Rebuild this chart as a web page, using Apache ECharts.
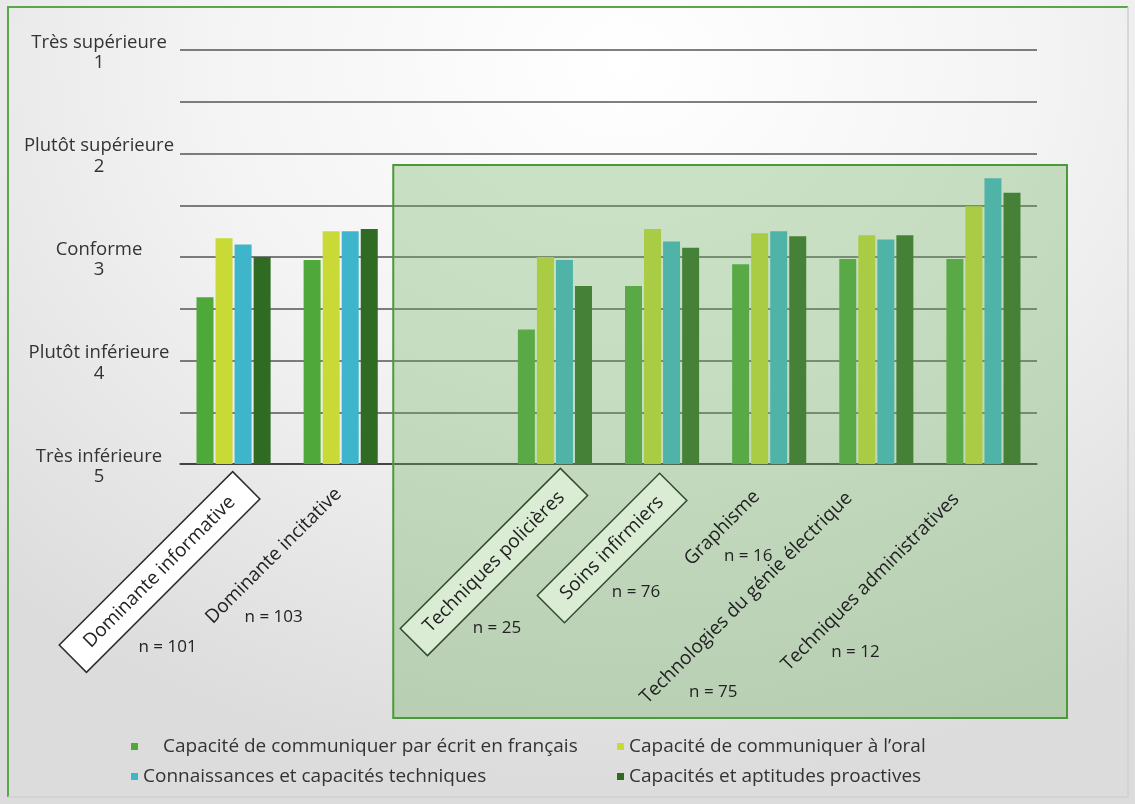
<!DOCTYPE html>
<html>
<head>
<meta charset="utf-8">
<script src="https://cdn.jsdelivr.net/npm/echarts@6/dist/echarts.min.js"></script>
<style>
  html, body { margin: 0; padding: 0; }
  #chart {
    width: 1135px; height: 804px;
    background: radial-gradient(ellipse 80% 90% at 55% 8%, #ffffff 0%, #f4f4f4 45%, #dcdcdc 100%);
  }
</style>
</head>
<body>
<div id="chart"></div>
<script>
// Programmes (the third slot is an empty spacer between the two groups)
const categories = [
  'Dominante informative', 'Dominante incitative', '',
  'Techniques policières', 'Soins infirmiers', 'Graphisme',
  'Technologies du génie électrique', 'Techniques administratives'
];
const sampleSizes = ['n = 101', 'n = 103', '', 'n = 25', 'n = 76', 'n = 16', 'n = 75', 'n = 12'];

const seriesNames = [
  'Capacité de communiquer par écrit en français',
  'Capacité de communiquer à l\u2019oral',
  'Connaissances et capacités techniques',
  'Capacités et aptitudes proactives'
];

// Mean ratings, 1 = Très supérieure ... 5 = Très inférieure
const ecrit      = [3.39, 3.03, null, 3.70, 3.28, 3.07, 3.02, 3.02];
const oral       = [2.82, 2.75, null, 3.00, 2.73, 2.77, 2.79, 2.51];
const techniques = [2.88, 2.75, null, 3.03, 2.85, 2.75, 2.83, 2.24];
const proactives = [3.00, 2.73, null, 3.28, 2.91, 2.80, 2.79, 2.38];

const scaleLabels = { 1: 'Très supérieure', 2: 'Plutôt supérieure', 3: 'Conforme', 4: 'Plutôt inférieure', 5: 'Très inférieure' };
const floorRating = 5;   // bars rise from the lowest rating

const colors = ['#4ea83a', '#c9d936', '#3fb5cc', '#2f6b22'];
const FONT = '"Open Sans", "Noto Sans", sans-serif';

// Label placement relative to each category tick: [dx, dy] from the tick on the axis line
const nameOffsets = [[-74, 108], [-67, 92], null, [-61, 98], [-50, 84], [-47, 64], [-130, 134], [-113, 118]];
const sizeOffsets = [[-66, 183], [-67, 153], null, [-58, 164], [-26, 128], [-21, 92], [-163, 228], [-128, 188]];
const boxed = {
  0: { backgroundColor: '#ffffff', borderColor: '#2b2b2b', padding: [9, 19] },
  3: { backgroundColor: '#daedd4', borderColor: '#35492f', padding: [9, 17] },
  4: { backgroundColor: '#daedd4', borderColor: '#35492f', padding: [9, 17] }
};

const rise = arr => arr.map(v => (v == null ? null : floorRating - v));

const chart = echarts.init(document.getElementById('chart'), null, { renderer: 'canvas' });

const legendBase = {
  orient: 'vertical', top: 732, itemWidth: 7, itemHeight: 7, itemGap: 11,
  icon: 'rect', selectedMode: false,
  textStyle: { fontFamily: FONT, fontSize: 19, color: '#333' }
};

const option = {
  animation: false,
  textStyle: { fontFamily: FONT },
  grid: { left: 180, right: 98, top: 50, bottom: 340 },
  legend: [
    Object.assign({}, legendBase, {
      left: 126,
      data: [{ name: seriesNames[0], textStyle: { padding: [0, 0, 0, 20] } }, seriesNames[2]]
    }),
    Object.assign({}, legendBase, {
      left: 612,
      data: [seriesNames[1], seriesNames[3]]
    })
  ],
  xAxis: {
    type: 'category',
    data: categories,
    axisLine: { lineStyle: { color: '#333', width: 1.5 } },
    axisTick: { show: false },
    axisLabel: { show: false }
  },
  yAxis: {
    type: 'value',
    min: 0, max: 4, interval: 0.5,
    axisLine: { show: false },
    axisTick: { show: false },
    splitLine: { lineStyle: { color: '#555', width: 1.5 } },
    axisLabel: {
      align: 'center', margin: 81,
      fontFamily: FONT, fontSize: 18.5, color: '#333',
      rich: {
        t: { fontFamily: FONT, fontSize: 18.5, color: '#333', lineHeight: 26, verticalAlign: 'bottom' },
        n: { fontFamily: FONT, fontSize: 18.5, color: '#333', lineHeight: 22 }
      },
      formatter: v => {
        const r = floorRating - v;
        return Number.isInteger(r) ? '{t|' + scaleLabels[r] + '}\n{n|' + r + '}' : '';
      }
    }
  },
  series: [ecrit, oral, techniques, proactives].map((arr, i) => ({
    name: seriesNames[i],
    type: 'bar',
    data: rise(arr),
    barWidth: 17,
    barGap: '12%',
    itemStyle: { color: colors[i] }
  }))
};

chart.setOption(option);

// Annotations attached to the axis ticks
const baseY = chart.convertToPixel({ yAxisIndex: 0 }, 0);
const tickX = i => chart.convertToPixel({ xAxisIndex: 0 }, i);
const graphics = [];

// Highlight panel over the programme group, starting at the spacer slot
const panelLeft = (tickX(1) + tickX(2)) / 2 - 1;
graphics.push({
  type: 'rect', z: 10,
  shape: { x: panelLeft, y: 165, width: 1067 - panelLeft, height: 553 },
  style: { fill: 'rgba(112,176,96,0.34)', stroke: '#4a9a3a', lineWidth: 2 }
});

categories.forEach((name, i) => {
  if (!name) return;
  const cx = tickX(i);
  const [ndx, ndy] = nameOffsets[i];
  const box = boxed[i] || {};
  graphics.push({
    type: 'text', z: 20,
    x: cx + ndx, y: baseY + ndy,
    rotation: Math.PI / 4,
    style: Object.assign({
      text: name, font: '19px ' + FONT, fill: '#222',
      align: 'center', verticalAlign: 'middle', borderWidth: box.borderColor ? 1.5 : 0
    }, box)
  });
  const [sdx, sdy] = sizeOffsets[i];
  graphics.push({
    type: 'text', z: 20,
    x: cx + sdx, y: baseY + sdy,
    style: { text: sampleSizes[i], font: '17px ' + FONT, fill: '#222', align: 'center', verticalAlign: 'middle' }
  });
});

// Frame
graphics.push({
  type: 'polyline', z: 5,
  shape: { points: [[8, 797], [8, 7], [1128, 7]] },
  style: { stroke: '#5aa64a', lineWidth: 2, fill: null }
});
graphics.push({
  type: 'polyline', z: 5,
  shape: { points: [[1128, 7], [1128, 797], [8, 797]] },
  style: { stroke: '#cfcfcf', lineWidth: 1.5, fill: null }
});

chart.setOption({ graphic: graphics });
</script>
</body>
</html>
